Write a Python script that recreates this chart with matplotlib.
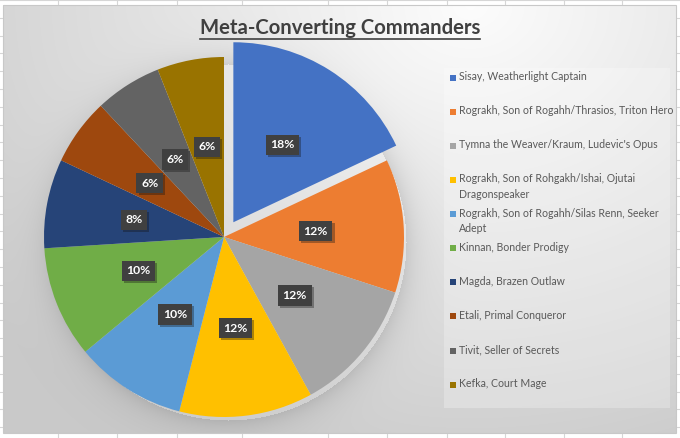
import numpy as np
import matplotlib.pyplot as plt
import matplotlib.patheffects as pe
from matplotlib.patches import Rectangle

# data
commanders = [
    "Sisay, Weatherlight Captain",
    "Rograkh, Son of Rogahh/Thrasios, Triton Hero",
    "Tymna the Weaver/Kraum, Ludevic's Opus",
    "Rograkh, Son of Rohgakh/Ishai, Ojutai\nDragonspeaker",
    "Rograkh, Son of Rogahh/Silas Renn, Seeker\nAdept",
    "Kinnan, Bonder Prodigy",
    "Magda, Brazen Outlaw",
    "Etali, Primal Conqueror",
    "Tivit, Seller of Secrets",
    "Kefka, Court Mage",
]
decks = [9, 6, 6, 6, 5, 5, 4, 3, 3, 3]
colors = ["#4472C4", "#ED7D31", "#A5A5A5", "#FFC000", "#5B9BD5",
          "#70AD47", "#264478", "#9E480E", "#636363", "#997300"]
titulo = "Meta-Converting Commanders"

W, H = 680, 438
fig = plt.figure(figsize=(6.8, 4.38), dpi=100)

# fundo: grade da planilha + area do grafico
bg = fig.add_axes([0, 0, 1, 1])
bg.axis("off")
cols = [58, 117, 177, 242, 328, 387, 447, 505, 564, 622]
for x in cols:
    bg.plot([x, x], [0, H], color="#d6d6d6", lw=0.8)
for y in np.arange(0, H, 17.8):
    bg.plot([0, W], [y, y], color="#d6d6d6", lw=0.8)

x0, x1, y0, y1 = 3, 676, 5, 433
yy, xx = np.mgrid[y0:y1, x0:x1]
d = np.hypot(xx - 470, (yy - 5) * 1.25)
val = 0.99 - 0.2 * np.clip(d / 620, 0, 1)
dp = np.hypot(xx - 228, yy - 242)
val -= np.where(dp > 178, np.exp(-(dp - 178) / 14.0), 0) * 0.10
img = np.dstack([val, val, val])
bg.imshow(img, extent=(x0, x1, y1, y0), aspect="auto", zorder=2)
bg.add_patch(Rectangle((x0, y0), x1 - x0, y1 - y0, fill=False,
                       ec="#c8c8c8", lw=0.8, zorder=3))

# caixa da legenda
bg.add_patch(Rectangle((444, 68), 226, 340, fc="white", alpha=0.25,
                       ec="none", zorder=3))
bg.set_xlim(0, W)
bg.set_ylim(H, 0)

for i, (nome, cor) in enumerate(zip(commanders, colors)):
    y = 77.7 + i * 34.1
    bg.add_patch(Rectangle((450, y - 3), 6, 6, fc=cor, ec="none", zorder=4))
    bg.text(459, y - 6.5, nome, fontsize=7.6, family="Lato", color="#595959",
            va="top", ha="left", linespacing=1.45, zorder=4)

# pizza
R = 180
cx, cy = 224, 237
half = 1.25 * R
ax = fig.add_axes([(cx - half) / W, (H - cy - half) / H, 2 * half / W, 2 * half / H])
explode = [0.097] + [0] * (len(decks) - 1)
wedges, texts, autotexts = ax.pie(
    decks, colors=colors, startangle=90, counterclock=False, explode=explode,
    autopct="%1.0f%%", pctdistance=0.51,
    wedgeprops=dict(linewidth=0),
    textprops=dict(color="white", fontsize=8.8, fontweight="bold", family="Lato"))
for t in autotexts:
    t.set_bbox(dict(boxstyle="square,pad=0.38", fc="#404040", ec="none"))
    t.get_bbox_patch().set_path_effects(
        [pe.SimplePatchShadow(offset=(1.5, -1.5), alpha=0.35), pe.Normal()])
ax.set_xlim(-1.25, 1.25)
ax.set_ylim(-1.25, 1.25)
ax.axis("off")

# titulo sublinhado
tt = fig.text(340 / W, 1 - 28 / H, titulo, ha="center", va="center",
              fontsize=14.6, fontweight="bold", family="Lato", color="#404040")
fig.canvas.draw()
bb = tt.get_window_extent(fig.canvas.get_renderer())
bg.plot([bb.x0, bb.x1], [39, 39], color="#404040", lw=1.2, zorder=5)

plt.savefig("out.png", dpi=100)
